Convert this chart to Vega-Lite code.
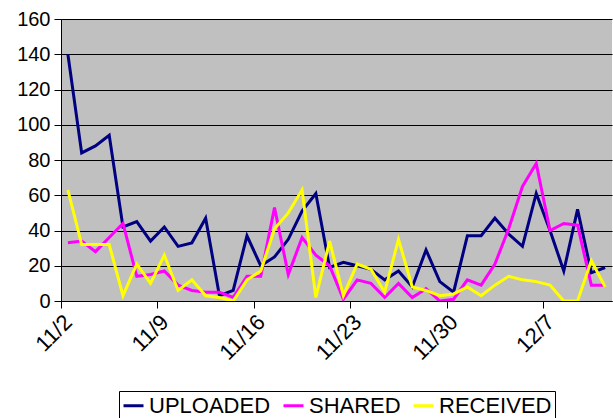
{
  "$schema": "https://vega.github.io/schema/vega-lite/v6.json",
  "width": 551,
  "height": 282,
  "autosize": {"type": "none"},
  "padding": {"left": 61, "top": 19, "right": 1, "bottom": 117},
  "background": "white",
  "config": {
    "view": {"fill": "#C0C0C0", "stroke": null},
    "font": "Liberation Sans"
  },
  "data": {
    "values": [
      {"date": "2008-11-02", "UPLOADED": 140, "SHARED": 33, "RECEIVED": 63},
      {"date": "2008-11-03", "UPLOADED": 84, "SHARED": 34, "RECEIVED": 32},
      {"date": "2008-11-04", "UPLOADED": 88, "SHARED": 28, "RECEIVED": 32},
      {"date": "2008-11-05", "UPLOADED": 94, "SHARED": 36, "RECEIVED": 32},
      {"date": "2008-11-06", "UPLOADED": 42, "SHARED": 44, "RECEIVED": 3},
      {"date": "2008-11-07", "UPLOADED": 45, "SHARED": 14, "RECEIVED": 21},
      {"date": "2008-11-08", "UPLOADED": 34, "SHARED": 15, "RECEIVED": 10},
      {"date": "2008-11-09", "UPLOADED": 42, "SHARED": 17, "RECEIVED": 26},
      {"date": "2008-11-10", "UPLOADED": 31, "SHARED": 9, "RECEIVED": 6},
      {"date": "2008-11-11", "UPLOADED": 33, "SHARED": 6, "RECEIVED": 12},
      {"date": "2008-11-12", "UPLOADED": 47, "SHARED": 5, "RECEIVED": 3},
      {"date": "2008-11-13", "UPLOADED": 3, "SHARED": 5, "RECEIVED": 2},
      {"date": "2008-11-14", "UPLOADED": 6, "SHARED": 2, "RECEIVED": 0},
      {"date": "2008-11-15", "UPLOADED": 37, "SHARED": 14, "RECEIVED": 12},
      {"date": "2008-11-16", "UPLOADED": 20, "SHARED": 14, "RECEIVED": 17},
      {"date": "2008-11-17", "UPLOADED": 25, "SHARED": 53, "RECEIVED": 41},
      {"date": "2008-11-18", "UPLOADED": 35, "SHARED": 15, "RECEIVED": 50},
      {"date": "2008-11-19", "UPLOADED": 51, "SHARED": 36, "RECEIVED": 63},
      {"date": "2008-11-20", "UPLOADED": 61, "SHARED": 26, "RECEIVED": 2},
      {"date": "2008-11-21", "UPLOADED": 19, "SHARED": 20, "RECEIVED": 34},
      {"date": "2008-11-22", "UPLOADED": 22, "SHARED": 1, "RECEIVED": 3},
      {"date": "2008-11-23", "UPLOADED": 20, "SHARED": 12, "RECEIVED": 21},
      {"date": "2008-11-24", "UPLOADED": 18, "SHARED": 10, "RECEIVED": 18},
      {"date": "2008-11-25", "UPLOADED": 12, "SHARED": 2, "RECEIVED": 5},
      {"date": "2008-11-26", "UPLOADED": 17, "SHARED": 10, "RECEIVED": 35},
      {"date": "2008-11-27", "UPLOADED": 8, "SHARED": 2, "RECEIVED": 8},
      {"date": "2008-11-28", "UPLOADED": 29, "SHARED": 7, "RECEIVED": 6},
      {"date": "2008-11-29", "UPLOADED": 11, "SHARED": 0, "RECEIVED": 3},
      {"date": "2008-11-30", "UPLOADED": 5, "SHARED": 1, "RECEIVED": 4},
      {"date": "2008-12-01", "UPLOADED": 37, "SHARED": 12, "RECEIVED": 8},
      {"date": "2008-12-02", "UPLOADED": 37, "SHARED": 9, "RECEIVED": 3},
      {"date": "2008-12-03", "UPLOADED": 47, "SHARED": 21, "RECEIVED": 9},
      {"date": "2008-12-04", "UPLOADED": 38, "SHARED": 41, "RECEIVED": 14},
      {"date": "2008-12-05", "UPLOADED": 31, "SHARED": 65, "RECEIVED": 12},
      {"date": "2008-12-06", "UPLOADED": 61, "SHARED": 78, "RECEIVED": 11},
      {"date": "2008-12-07", "UPLOADED": 40, "SHARED": 40, "RECEIVED": 9},
      {"date": "2008-12-08", "UPLOADED": 17, "SHARED": 44, "RECEIVED": 0},
      {"date": "2008-12-09", "UPLOADED": 52, "SHARED": 43, "RECEIVED": 0},
      {"date": "2008-12-10", "UPLOADED": 16, "SHARED": 9, "RECEIVED": 23},
      {"date": "2008-12-11", "UPLOADED": 19, "SHARED": 9, "RECEIVED": 8}
    ],
    "format": {"parse": {"date": "utc:'%Y-%m-%d'"}}
  },
  "transform": [
    {"fold": ["UPLOADED", "SHARED", "RECEIVED"], "as": ["series", "value"]}
  ],
  "mark": {"type": "line", "strokeWidth": 3, "clip": true},
  "encoding": {
    "x": {
      "field": "date",
      "type": "temporal",
      "scale": {
        "type": "utc",
        "domain": [
          {"year": 2008, "month": 11, "date": 1, "hours": 12, "utc": true},
          {"year": 2008, "month": 12, "date": 11, "hours": 12, "utc": true}
        ]
      },
      "axis": {
        "title": null,
        "grid": false,
        "values": [
          {"year": 2008, "month": 11, "date": 1, "hours": 12, "utc": true},
          {"year": 2008, "month": 11, "date": 8, "hours": 12, "utc": true},
          {"year": 2008, "month": 11, "date": 15, "hours": 12, "utc": true},
          {"year": 2008, "month": 11, "date": 22, "hours": 12, "utc": true},
          {"year": 2008, "month": 11, "date": 29, "hours": 12, "utc": true},
          {"year": 2008, "month": 12, "date": 6, "hours": 12, "utc": true}
        ],
        "labelExpr": "utcFormat(datum.value + 43200000, '%-m/%-d')",
        "labelAngle": -45,
        "labelAlign": "right",
        "labelBaseline": "top",
        "labelFontSize": 22,
        "labelColor": "black",
        "labelPadding": 3,
        "labelFlush": false,
        "labelOverlap": false,
        "tickSize": 7,
        "tickColor": "black",
        "domainColor": "black",
        "domainWidth": 1
      }
    },
    "y": {
      "field": "value",
      "type": "quantitative",
      "scale": {"domain": [0, 160], "nice": false},
      "axis": {
        "title": null,
        "values": [0, 20, 40, 60, 80, 100, 120, 140, 160],
        "labelFontSize": 20,
        "labelColor": "black",
        "labelPadding": 4,
        "tickSize": 7,
        "tickColor": "black",
        "domainColor": "black",
        "gridColor": "black",
        "gridOpacity": 1,
        "gridWidth": 1
      }
    },
    "color": {
      "field": "series",
      "type": "nominal",
      "sort": ["UPLOADED", "SHARED", "RECEIVED"],
      "scale": {
        "domain": ["UPLOADED", "SHARED", "RECEIVED"],
        "range": ["#000080", "#FF00FF", "#FFFF00"]
      },
      "legend": {
        "title": null,
        "orient": "none",
        "legendX": 58,
        "legendY": 372,
        "direction": "horizontal",
        "symbolType": "stroke",
        "symbolStrokeWidth": 3,
        "symbolSize": 400,
        "labelFontSize": 22,
        "labelColor": "black",
        "labelOffset": 4,
        "columnPadding": 6,
        "padding": 3,
        "strokeColor": "black",
        "fillColor": "white"
      }
    }
  }
}
